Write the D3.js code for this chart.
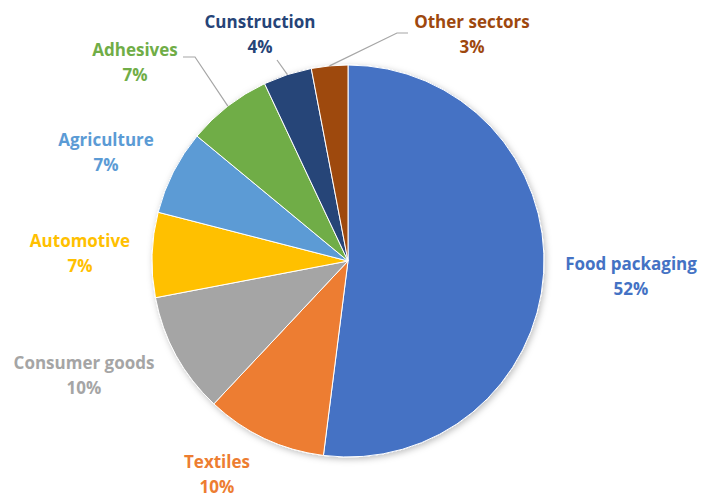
<!DOCTYPE html>
<html>
<head>
<meta charset="utf-8">
<script src="https://cdn.jsdelivr.net/npm/d3@7"></script>
<style>
  html, body { margin: 0; padding: 0; background: #fff; }
  svg { display: block; }
  text { font-family: "Open Sans", "Noto Sans", sans-serif; font-weight: 700; }
</style>
</head>
<body>
<svg id="chart" width="702" height="495"></svg>
<script>
// Market share by end-use sector (%)
const categories = ["Food packaging", "Textiles", "Consumer goods", "Automotive",
                    "Agriculture", "Adhesives", "Cunstruction", "Other sectors"];
const shares = [52, 10, 10, 7, 7, 7, 4, 3];
const sliceColors = ["#4472C4", "#ED7D31", "#A5A5A5", "#FFC000",
                     "#5B9BD5", "#70AD47", "#264478", "#9E480E"];

// Label anchors (centre of the two-line label) and leader-line elbows
const labelPos = [[631, 264], [217, 462], [84, 363], [80, 241],
                  [106, 140], [135, 50], [260, 22], [472, 22]];
const leaders = {
  "Adhesives":     [[183, 57], [195, 57]],
  "Cunstruction":  [[277, 60]],
  "Other sectors": [[408, 33], [397, 33]]
};

const svg = d3.select("#chart");
const cx = 348, cy = 261, radius = 196;

const defs = svg.append("defs");
const f = defs.append("filter").attr("id", "shadow")
  .attr("x", "-10%").attr("y", "-10%").attr("width", "120%").attr("height", "120%");
f.append("feDropShadow").attr("dx", 1.5).attr("dy", 2).attr("stdDeviation", 3)
  .attr("flood-color", "#000").attr("flood-opacity", 0.25);

const pie = d3.pie().value(d => d.value).sort(null);
const arc = d3.arc().innerRadius(0).outerRadius(radius);
const data = categories.map((c, i) => ({ name: c, value: shares[i], color: sliceColors[i] }));
const arcs = pie(data);

const g = svg.append("g").attr("transform", `translate(${cx},${cy})`);
g.append("g").attr("filter", "url(#shadow)")
  .selectAll("path").data(arcs).join("path")
  .attr("d", arc)
  .attr("fill", d => d.data.color)
  .attr("stroke", "#fff")
  .attr("stroke-width", 1);

// Leader lines from the slice edge to the label
const line = d3.line();
arcs.forEach(a => {
  const pts = leaders[a.data.name];
  if (!pts) return;
  const mid = (a.startAngle + a.endAngle) / 2;
  const edge = [cx + radius * Math.sin(mid), cy - radius * Math.cos(mid)];
  svg.append("path")
    .attr("d", line([edge, ...pts.slice().reverse()]))
    .attr("fill", "none")
    .attr("stroke", "#A6A6A6")
    .attr("stroke-width", 1.2);
});

// Two-line labels: name and percentage
const fmt = d => d + "%";
arcs.forEach((a, i) => {
  const [lx, ly] = labelPos[i];
  const t = svg.append("text")
    .attr("text-anchor", "middle")
    .attr("fill", a.data.color)
    .attr("font-size", 17);
  t.append("tspan").attr("x", lx).attr("y", ly + 6).text(a.data.name);
  t.append("tspan").attr("x", lx).attr("y", ly + 31).text(fmt(a.data.value));
});
</script>
</body>
</html>
